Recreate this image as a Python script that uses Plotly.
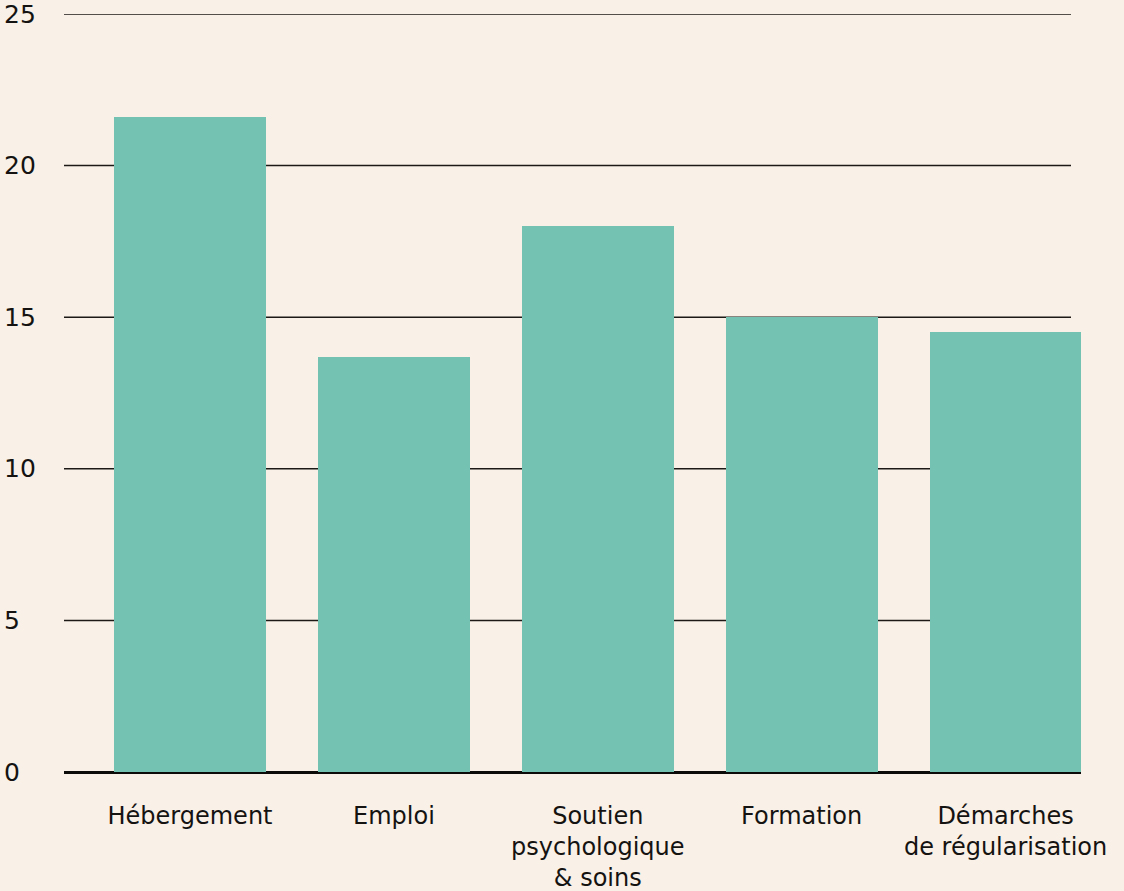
import plotly.graph_objects as go

categories = ["Hébergement", "Emploi", "Soutien<br>psychologique<br>& soins", "Formation", "Démarches<br>de régularisation"]
values = [21.6, 13.7, 18.0, 15.0, 14.5]
y_ticks = [0, 5, 10, 15, 20, 25]

BG = "#F9F0E7"
BAR = "#74C2B1"
INK = "#151311"
FONT = "DejaVu Sans"

W, H = 1124, 891
ML, MR, MT, MB = 64, 43, 14, 119
plot_w = W - ML - MR

fig = go.Figure()
fig.add_trace(go.Bar(
    x=list(range(len(categories))),
    y=values,
    marker=dict(color=BAR, line=dict(width=0)),
    width=0.745,
    hoverinfo="skip",
))

# gridlines (stop slightly short of the right edge, like the reference)
grid_end = (1071 - ML) / plot_w
shapes = []
for t in y_ticks[1:]:
    shapes.append(dict(type="line", xref="paper", yref="y", x0=0, x1=grid_end, y0=t, y1=t,
                       line=dict(color="#1c1916", width=1.5), layer="below"))
# left-aligned y tick labels
annotations = []
for t in y_ticks:
    annotations.append(dict(xref="paper", yref="y", x=(2 - ML) / plot_w, y=t, text=str(t),
                            xanchor="left", yanchor="middle", showarrow=False,
                            font=dict(family=FONT, size=25, color=INK)))

fig.update_layout(
    width=W, height=H,
    margin=dict(l=ML, r=MR, t=MT, b=MB, pad=0),
    paper_bgcolor=BG, plot_bgcolor=BG,
    showlegend=False,
    bargap=0,
    shapes=shapes,
    annotations=annotations,
    xaxis=dict(
        range=[-0.618, 4.370],
        tickmode="array",
        tickvals=list(range(len(categories))),
        ticktext=categories,
        ticks="outside", ticklen=22, tickcolor="rgba(0,0,0,0)",
        tickfont=dict(family=FONT, size=24, color=INK),
        showgrid=False, zeroline=False, showline=False,
        automargin=False,
        fixedrange=True,
    ),
    yaxis=dict(
        range=[0, 25],
        showticklabels=False,
        showgrid=False,
        zeroline=True, zerolinecolor="#0d0b0a", zerolinewidth=2.6,
        showline=False, ticks="",
        automargin=False,
        fixedrange=True,
    ),
)

fig.write_html("out.html", config={"displayModeBar": False},
               post_script="document.body.style.margin='0';document.body.style.overflow='hidden';")
